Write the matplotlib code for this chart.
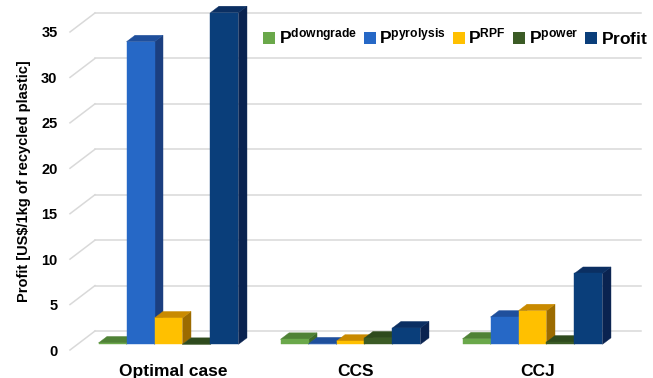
import matplotlib.pyplot as plt
import numpy as np
from matplotlib.patches import Polygon, Patch
import matplotlib as mpl

mpl.rcParams['font.family'] = ['Liberation Sans', 'DejaVu Sans']
mpl.rcParams['mathtext.fontset'] = 'custom'
mpl.rcParams['mathtext.rm'] = 'Liberation Sans'
mpl.rcParams['mathtext.bf'] = 'Liberation Sans:bold'

cases = ['Optimal case', 'CCS', 'CCJ']
series = ['downgrade', 'pyrolysis', 'RPF', 'power', 'Profit']
p_downgrade = [0.15, 0.55, 0.6]
p_pyrolysis = [33.3, 0.05, 3.0]
p_rpf = [2.9, 0.35, 3.7]
p_power = [0.0, 0.7, 0.25]
profit = [36.5, 1.8, 7.8]
values = [p_downgrade, p_pyrolysis, p_rpf, p_power, profit]

# front / top / side shading per series
front = ['#6aa84a', '#2668c6', '#ffc000', '#3b5b25', '#0a3e7a']
top = ['#4f8236', '#1f4f9c', '#c98a00', '#2e4a1d', '#0b2f62']
side = ['#3f6a2b', '#1b3f80', '#9c6b00', '#243a16', '#0a2350']

yticks = [0, 5, 10, 15, 20, 25, 30, 35]

# oblique depth of the whole floor, in data units
dx_floor = 25 / 182
dy_floor = 2.09
f_front = 0.30   # where the bar fronts sit along the depth
f_depth = 0.34   # bar depth as fraction of floor depth
gap = 0.231
bw = (1 - gap) / len(series)

fig = plt.figure(figsize=(6.53, 3.78), dpi=100)
ax = fig.add_axes([70 / 653, 28 / 378, 571 / 653, 337 / 378])
ax.set_xlim(0, 3 + dx_floor)
ax.set_ylim(0, 35 + dy_floor)
for s in ax.spines.values():
    s.set_visible(False)

# back wall grid + left slant
for v in yticks:
    ax.plot([dx_floor, 3 + dx_floor], [v + dy_floor, v + dy_floor],
            color='#d9d9d9', lw=1.1, zorder=0, clip_on=False)
    ax.plot([0, dx_floor], [v, v + dy_floor], color='#d9d9d9', lw=1.1,
            zorder=0, clip_on=False)

ddx = dx_floor * f_depth
ddy = dy_floor * f_depth
z = 1
for i in range(len(cases)):
    for j in range(len(series)):
        v = values[j][i]
        x0 = i + gap / 2 + j * bw + dx_floor * f_front
        y0 = dy_floor * f_front
        faces = [
            ([(x0 + bw, y0), (x0 + bw, y0 + v), (x0 + bw + ddx, y0 + v + ddy),
              (x0 + bw + ddx, y0 + ddy)], side[j]),
            ([(x0, y0 + v), (x0 + bw, y0 + v), (x0 + bw + ddx, y0 + v + ddy),
              (x0 + ddx, y0 + v + ddy)], top[j]),
            ([(x0, y0), (x0 + bw, y0), (x0 + bw, y0 + v), (x0, y0 + v)], front[j]),
        ]
        for pts, c in faces:
            ax.add_patch(Polygon(pts, closed=True, facecolor=c, edgecolor=c,
                                 lw=0.3, zorder=z, clip_on=False))
            z += 1

ax.set_yticks(yticks)
ax.set_yticklabels([str(t) for t in yticks], fontsize=10.5, fontweight='bold')
ax.set_xticks(np.arange(len(cases)) + 0.5 + dx_floor * 0.5)
ax.set_xticklabels(cases, fontsize=12.5, fontweight='bold')
ax.tick_params(axis='y', length=0, pad=9)
ax.tick_params(axis='x', length=0, pad=10)
ax.set_ylabel('Profit [US$/1kg of recycled plastic]', fontsize=10.5,
              fontweight='bold', labelpad=7)

handles = [Patch(facecolor=front[j], edgecolor='none') for j in range(5)]
labels = [r'$\mathbf{P^{downgrade}}$', r'$\mathbf{P^{pyrolysis}}$',
          r'$\mathbf{P^{RPF}}$', r'$\mathbf{P^{power}}$', r'$\mathbf{Profit}$']
leg = ax.legend(handles, labels, ncol=5, frameon=False, fontsize=12.5,
                loc='upper right', bbox_to_anchor=(1.03, 0.99),
                handlelength=0.7, handleheight=0.7, handletextpad=0.2,
                columnspacing=0.4, borderaxespad=0.2)
leg.set_zorder(100)

fig.savefig('out.png', dpi=100)
